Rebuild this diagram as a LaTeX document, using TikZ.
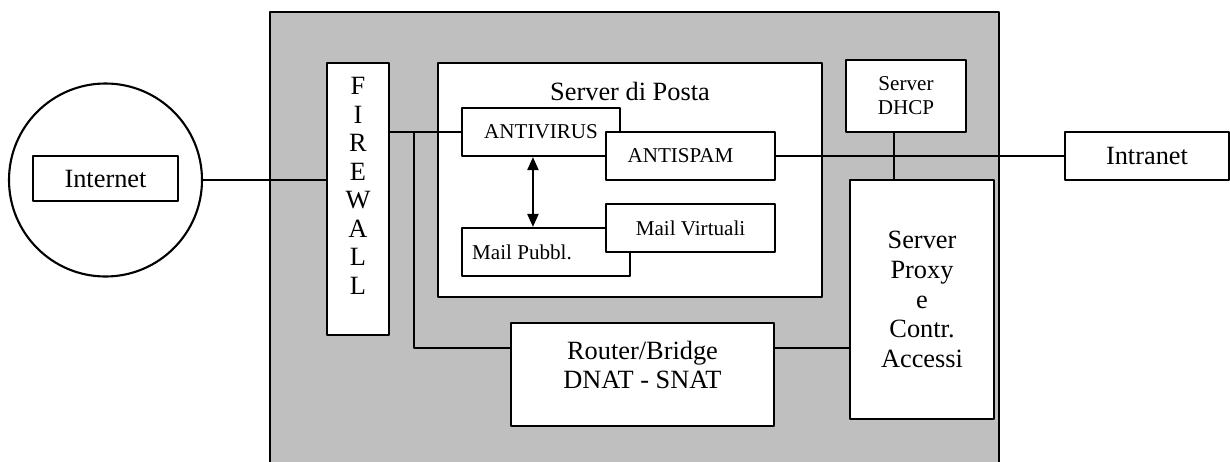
\documentclass[tikz,border=0pt]{standalone}
\usepackage{fontspec}
\setmainfont{Liberation Serif}
\usetikzlibrary{arrows.meta,calc,positioning}

\begin{document}
\begin{tikzpicture}[line cap=round,line join=round,>={Triangle[length=1.3mm,width=1.1mm]},x=1cm,y=1cm,
	line width=0.6pt,
	box/.style={draw,fill=white,inner sep=0pt,align=center},
	big/.style={font=\fontsize{7.5}{8.5}\selectfont},
	small/.style={font=\fontsize{6}{6.8}\selectfont}]

\useasboundingbox (0,0) rectangle (12.30,4.61);
\draw[fill=black!25] (2.70,-0.1) rectangle (9.99,4.49);

\node[draw,circle,minimum size=1.93cm,inner sep=0pt] (web) at (1.055,2.81) {};
\node[box,big,minimum width=1.45cm,minimum height=0.45cm] (inet) at (1.055,2.825) {Internet};

\node[box,minimum width=0.62cm,minimum height=2.72cm] (fw) at (3.58,2.62) {};
\node[align=center,font=\fontsize{7.5}{8.1}\selectfont] (fwtxt) at (3.58,2.75) {F\\I\\R\\E\\W\\A\\L\\L};

\node[box,minimum width=3.84cm,minimum height=2.34cm] (posta) at (6.30,2.81) {};
\node[big] (postatxt) at (6.30,3.70) {Server di Posta};
\node[box,small,minimum width=1.58cm,minimum height=0.48cm] (av) at (5.41,3.29) {ANTIVIRUS};
\node[box,small,minimum width=1.69cm,minimum height=0.48cm] (as) at (6.905,3.05) {ANTISPAM\hspace*{0.2cm}};
\node[box,small,minimum width=1.68cm,minimum height=0.48cm] (mp) at (5.46,2.09) {Mail Pubbl.\hspace*{0.48cm}};
\node[box,small,minimum width=1.69cm,minimum height=0.48cm] (mv) at (6.905,2.33) {Mail Virtuali};

\node[box,minimum width=2.63cm,minimum height=1.03cm] (rt) at (6.425,0.865) {};
\node[big,align=center] (rttxt) at (6.425,0.96) {Router/Bridge\\DNAT - SNAT};

\node[box,big,minimum width=1.44cm,minimum height=2.39cm] (px) at (9.22,1.615) {Server\\Proxy\\e\\Contr.\\Accessi};
\node[box,small,minimum width=1.20cm,minimum height=0.72cm] (dhcp) at (9.06,3.65) {Server\\DHCP};
\node[box,big,minimum width=1.64cm,minimum height=0.48cm] (intra) at (11.47,3.05) {Intranet};

% links
\draw (web.east) -- (web.east -| fw.west);
\draw (av.west) -- (av.west -| fw.east);
\coordinate (tap) at (4.14,3.29);
\draw (tap) |- ([yshift=0.265cm]rt.west);
\draw ([yshift=0.265cm]rt.east) -- ([yshift=0.265cm]rt.east -| px.west);
\draw[<->] ([xshift=0.72cm]av.south west) -- ([xshift=0.72cm]av.south west |- mp.north);
\draw (as.east) -- (intra.west);
\draw ([xshift=-0.12cm]dhcp.south) -- ([xshift=-0.12cm]dhcp.south |- px.north);
\end{tikzpicture}
\end{document}
